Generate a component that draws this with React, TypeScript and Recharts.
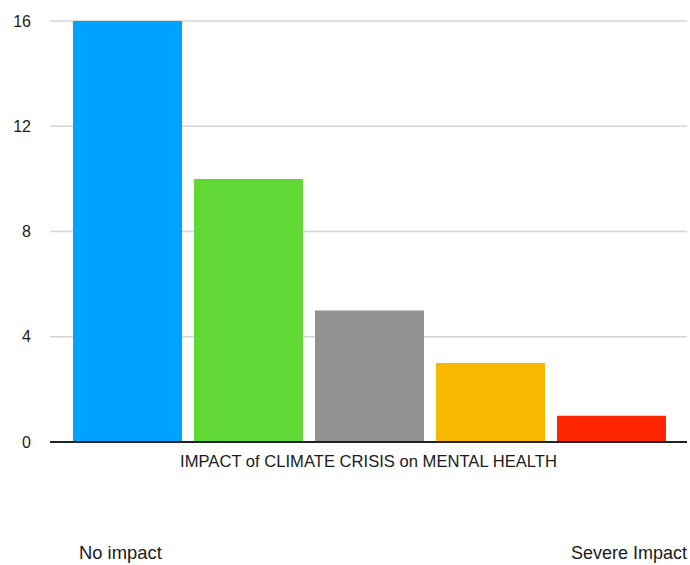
import { BarChart, Bar, XAxis, YAxis, CartesianGrid } from 'recharts'

// Survey responses, one bar per impact level, all under a single category
const CATEGORY = 'IMPACT of CLIMATE CRISIS on MENTAL HEALTH'
const LEVELS = ['level1', 'level2', 'level3', 'level4', 'level5']
const COUNTS = [16, 10, 5, 3, 1]
const COLORS = ['#00A2FF', '#61D836', '#929292', '#F8BA00', '#FF2600']
const Y_TICKS = [0, 4, 8, 12, 16]
const SCALE_LOW = 'No impact'
const SCALE_HIGH = 'Severe Impact'

const row: Record<string, string | number> = { name: CATEGORY }
LEVELS.forEach((key, i) => {
  row[key] = COUNTS[i]
})
const data = [row]

const FONT = '"Liberation Sans", Helvetica, Arial, sans-serif'

export default function App() {
  return (
    <div
      style={{
        position: 'absolute',
        left: 0,
        top: 0,
        width: 690,
        height: 565,
        background: '#fff',
        fontFamily: FONT,
      }}
    >
      <BarChart
        width={690}
        height={470}
        data={data}
        margin={{ top: 21, right: 3, bottom: 0, left: 0 }}
        barCategoryGap={23}
        barGap={12}
      >
        <CartesianGrid vertical={false} stroke="#D4D4D4" strokeWidth={1.5} />
        <XAxis
          dataKey="name"
          height={28}
          tickLine={false}
          tickSize={0}
          tickMargin={13}
          axisLine={{ stroke: '#222', strokeWidth: 2 }}
          tick={{ fill: '#1a1a1a', fontSize: 16.6, fontFamily: FONT }}
        />
        <YAxis
          width={50}
          domain={[0, 16]}
          ticks={Y_TICKS}
          axisLine={false}
          tickLine={false}
          tickSize={0}
          tickMargin={19}
          tick={{ fill: '#1a1a1a', fontSize: 16, fontFamily: FONT }}
        />
        {LEVELS.map((key, i) => (
          <Bar key={key} dataKey={key} fill={COLORS[i]} isAnimationActive={false} />
        ))}
      </BarChart>
      <div
        style={{
          position: 'absolute',
          left: 79,
          top: 544,
          fontSize: 18.4,
          lineHeight: '18px',
          color: '#1a1a1a',
        }}
      >
        {SCALE_LOW}
      </div>
      <div
        style={{
          position: 'absolute',
          right: 3,
          top: 544,
          fontSize: 18,
          lineHeight: '18px',
          color: '#1a1a1a',
          whiteSpace: 'nowrap',
        }}
      >
        {SCALE_HIGH}
      </div>
    </div>
  )
}
